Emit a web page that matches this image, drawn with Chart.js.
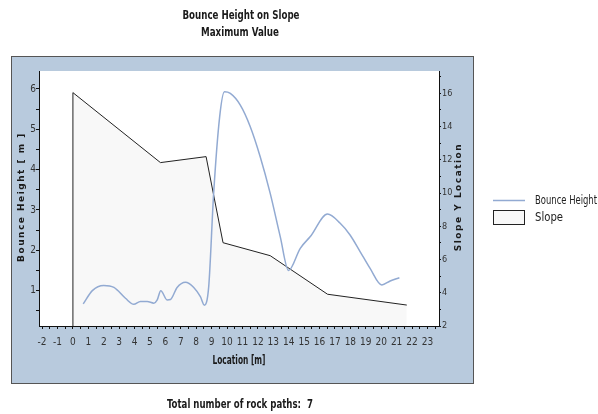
<!DOCTYPE html>
<html>
<head>
<meta charset="utf-8">
<title>Bounce Height on Slope</title>
<script src="https://cdn.jsdelivr.net/npm/chart.js@4.4.0/dist/chart.umd.min.js"></script>
<style>
  html, body { margin: 0; padding: 0; background: #fff; }
  #wrap { width: 598px; height: 414px; }
</style>
</head>
<body>
<div id="wrap"><canvas id="chart" width="598" height="414"></canvas></div>
<script>
// Bounce height (left axis, m) along the slope
const bounceX = [0.67, 1.26, 2.0, 2.66, 3.41, 3.95, 4.38, 4.82, 5.25, 5.47, 5.70, 6.11, 6.33, 6.76, 7.30, 7.84, 8.27, 8.53,
  8.81, 9.13, 9.52, 9.83, 10.21, 10.86, 11.5, 12.15, 12.8, 13.45, 13.99, 14.75, 15.4, 16.52, 17.34, 17.98, 18.63, 19.28, 20.04, 20.58, 21.18];
const bounceY = [0.67, 1.0, 1.13, 1.08, 0.81, 0.66, 0.73, 0.73, 0.69, 0.77, 1.0, 0.77, 0.78, 1.08, 1.21, 1.08, 0.85, 0.64,
  1.10, 3.41, 5.31, 5.93, 5.89, 5.6, 5.07, 4.32, 3.41, 2.34, 1.50, 2.05, 2.34, 2.90, 2.67, 2.38, 1.97, 1.55, 1.14, 1.24, 1.32];

// Slope profile (right axis, Slope Y location)
const slopeX = [0, 0, 5.68, 8.64, 9.74, 12.8, 16.52, 21.66];
const slopeY = [2, 16.04, 11.83, 12.19, 7.01, 6.23, 3.91, 3.26];

const seriesNames = ['Bounce Height', 'Slope'];
const titleLines = ['Bounce Height on Slope', 'Maximum Value'];
const footerText = 'Total number of rock paths:  7';

const BLUE = '#92aad2';
const PANEL = '#b8cadd';
const NARROW = '"DejaVu Sans Condensed", "Liberation Sans Narrow", sans-serif';

function toPoints(xs, ys) {
  return xs.map(function(x, i) { return { x: x, y: ys[i] }; });
}

const decorPlugin = {
  id: 'decor',
  beforeDraw: function(chart) {
    const ctx = chart.ctx;
    const a = chart.chartArea;
    ctx.save();
    ctx.fillStyle = '#fff';
    ctx.fillRect(0, 0, chart.width, chart.height);
    // blue panel round the plot
    ctx.fillStyle = PANEL;
    ctx.fillRect(11, 56, 462, 327);
    ctx.strokeStyle = '#555';
    ctx.lineWidth = 1;
    ctx.strokeRect(11.5, 56.5, 462, 327);
    ctx.fillStyle = '#fff';
    ctx.fillRect(a.left, a.top, a.right - a.left, a.bottom - a.top);
    ctx.restore();
  },
  afterDraw: function(chart) {
    const ctx = chart.ctx;
    ctx.save();
    ctx.fillStyle = '#1a1a1a';
    ctx.textAlign = 'center';
    ctx.textBaseline = 'middle';
    ctx.font = 'bold condensed 13px ' + NARROW;
    ctx.fillText(titleLines[0], 241, 16, 117);
    ctx.fillText(titleLines[1], 240, 33, 78);
    ctx.fillText(footerText, 240, 405, 146);
    ctx.font = 'bold condensed 12px ' + NARROW;
    ctx.fillText('Location [m]', 239, 361, 53);

    // rotated axis titles
    ctx.font = 'bold 9px "DejaVu Sans", sans-serif';
    ctx.letterSpacing = '1.5px';
    ctx.save();
    ctx.translate(22, 197);
    ctx.rotate(-Math.PI / 2);
    ctx.fillText('Bounce Height [ m ]', 0, 0, 130);
    ctx.restore();
    ctx.save();
    ctx.translate(459, 197);
    ctx.rotate(-Math.PI / 2);
    ctx.fillText('Slope Y Location', 0, 0, 112);
    ctx.restore();
    ctx.letterSpacing = '0px';

    // legend
    ctx.textAlign = 'left';
    ctx.font = 'condensed 12px ' + NARROW;
    ctx.strokeStyle = BLUE;
    ctx.lineWidth = 1.5;
    ctx.beginPath();
    ctx.moveTo(493, 200.5);
    ctx.lineTo(525, 200.5);
    ctx.stroke();
    ctx.fillStyle = '#222';
    ctx.fillText(seriesNames[0], 535, 201, 62);
    ctx.fillStyle = '#f8f8f8';
    ctx.fillRect(493, 210, 31, 14);
    ctx.strokeStyle = '#222';
    ctx.lineWidth = 1;
    ctx.strokeRect(493.5, 210.5, 31, 14);
    ctx.fillStyle = '#222';
    ctx.fillText(seriesNames[1], 535, 218, 28);
    ctx.restore();
  }
};

const tickFont = { family: NARROW, size: 10 };

new Chart(document.getElementById('chart'), {
  type: 'line',
  data: {
    datasets: [
      {
        label: seriesNames[0],
        data: toPoints(bounceX, bounceY),
        yAxisID: 'y',
        borderColor: BLUE,
        borderWidth: 1.5,
        pointRadius: 0,
        cubicInterpolationMode: 'monotone',
        fill: false,
        order: 1
      },
      {
        label: seriesNames[1],
        data: toPoints(slopeX, slopeY),
        yAxisID: 'y1',
        borderColor: '#222',
        borderWidth: 1,
        backgroundColor: '#f8f8f8',
        pointRadius: 0,
        tension: 0,
        fill: 'start',
        order: 2
      }
    ]
  },
  options: {
    responsive: false,
    animation: false,
    layout: { padding: { left: 11, right: 125, top: 71, bottom: 31 } },
    plugins: {
      legend: { display: false },
      title: { display: false },
      tooltip: { enabled: false }
    },
    scales: {
      x: {
        type: 'linear',
        min: -2.2,
        max: 23.75,
        afterFit: function(scale) { scale.height = 57; },
        border: { color: '#111', width: 1 },
        grid: { drawOnChartArea: false, tickLength: 3, color: '#111' },
        ticks: {
          stepSize: 0.5,
          includeBounds: false,
          autoSkip: false,
          maxRotation: 0,
          padding: 7,
          color: '#333',
          font: tickFont,
          callback: function(v) { return Number.isInteger(v) ? String(v) : ''; }
        }
      },
      y: {
        type: 'linear',
        position: 'left',
        min: 0.123,
        max: 6.446,
        afterFit: function(scale) { scale.width = 28; },
        border: { color: '#111', width: 1 },
        grid: { drawOnChartArea: false, tickLength: 3, color: '#111' },
        ticks: {
          stepSize: 0.5,
          includeBounds: false,
          autoSkip: false,
          padding: 0,
          color: '#333',
          font: tickFont,
          callback: function(v) { return Number.isInteger(v) ? String(v) : ''; }
        }
      },
      y1: {
        type: 'linear',
        position: 'right',
        min: 2,
        max: 17.34,
        afterFit: function(scale) { scale.width = 34; },
        border: { color: '#111', width: 1 },
        grid: { drawOnChartArea: false, tickLength: 2, color: '#111' },
        ticks: {
          stepSize: 1,
          includeBounds: false,
          autoSkip: false,
          padding: 1,
          color: '#333',
          font: { family: NARROW, size: 9 },
          callback: function(v) { return v % 2 === 0 ? String(v) : ''; }
        }
      }
    }
  },
  plugins: [decorPlugin]
});
</script>
</body>
</html>
